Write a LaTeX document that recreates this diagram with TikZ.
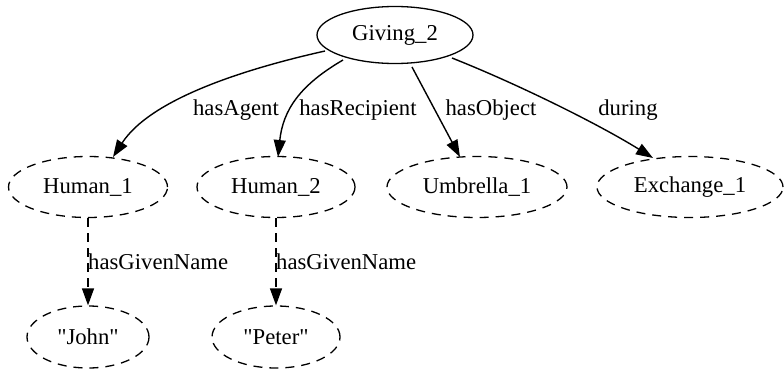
\documentclass[tikz,border=0pt]{standalone}
\usepackage{fontspec}
\setmainfont{Liberation Serif}
\newfontfamily\tms{Liberation Serif}
\usetikzlibrary{arrows.meta,shapes.geometric}
\begin{document}
\begin{tikzpicture}[x=1pt,y=-1pt,
  every node/.style={font=\tms\fontsize{22.7}{26}\selectfont},
  ell/.style={draw,ellipse,line width=1.3pt,inner sep=0pt},
  dell/.style={ell,dash pattern=on 9pt off 7pt},
  edge/.style={line width=1.4pt,-{Triangle[length=17pt,width=12pt]}},
  dedge/.style={edge,dash pattern=on 9pt off 6pt},
  lbl/.style={inner sep=0pt}]
\useasboundingbox (0,0) rectangle (784,372);
\node[ell,minimum width=156pt,minimum height=57pt] (g) at (395,35) {Giving\_2};
\node[dell,minimum width=159pt,minimum height=61pt] (h1) at (88,187) {Human\_1};
\node[dell,minimum width=158pt,minimum height=61pt] (h2) at (276,187) {Human\_2};
\node[dell,minimum width=180pt,minimum height=61pt] (u1) at (477,187) {Umbrella\_1};
\node[dell,minimum width=186pt,minimum height=61pt] (e1) at (690,187) {Exchange\_1};
\node[dell,minimum width=122pt,minimum height=62pt] (j) at (88,337) {\symbol{34}John\symbol{34}};
\node[dell,minimum width=128pt,minimum height=62pt] (p) at (276,337) {\symbol{34}Peter\symbol{34}};
\coordinate (a1) at (325,51);
\coordinate (a2) at (343,60);
\coordinate (a3) at (412,67);
\coordinate (a4) at (452,58);
\draw[edge] (a1) .. controls (240,70) and (150,100) .. (113,157);
\draw[edge] (a2) .. controls (300,85) and (283,110) .. (278,157);
\draw[edge] (a3) -- (460,157);
\draw[edge] (a4) .. controls (520,85) and (600,125) .. (653,158);
\draw[dedge] (h1.south) -- (j.north);
\draw[dedge] (h2.south) -- (p.north);
\node[lbl] (l1) at (236,110) {hasAgent};
\node[lbl] (l2) at (358,110) {hasRecipient};
\node[lbl] (l3) at (491,110) {hasObject};
\node[lbl] (l4) at (628,110) {during};
\node[lbl,anchor=west] (l5) at (88,262) {hasGivenName};
\node[lbl,anchor=west] (l6) at (276,262) {hasGivenName};
\end{tikzpicture}
\end{document}
